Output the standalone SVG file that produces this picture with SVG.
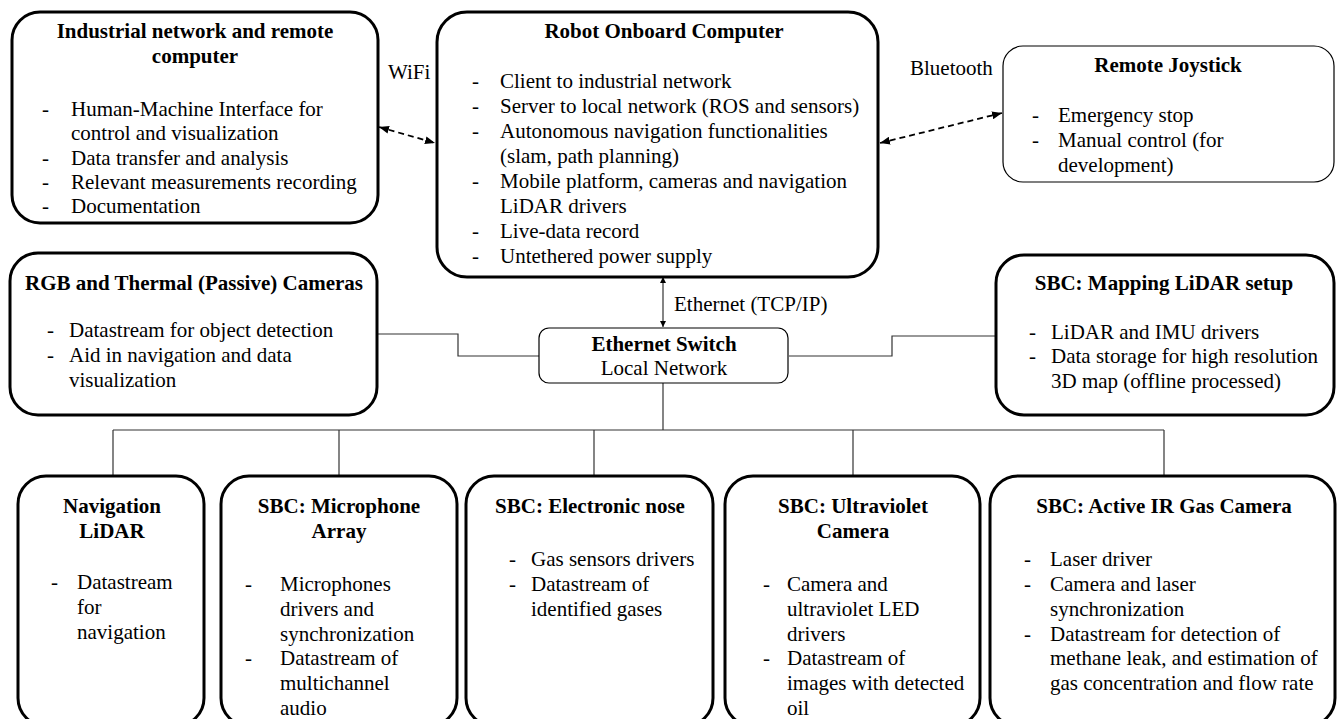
<svg xmlns="http://www.w3.org/2000/svg" width="1341" height="719" viewBox="0 0 1341 719" font-family="Liberation Serif, Times New Roman, Times, serif">
<style>
  .box{fill:#fff;stroke:#000;stroke-width:3}
  .thin{fill:#fff;stroke:#000;stroke-width:1.2}
  text{font-family:'Liberation Serif','Times New Roman',Times,serif;font-size:21px;fill:#000}
  .t{font-weight:bold;text-anchor:middle}
  .c{text-anchor:middle}
  .wire{fill:none;stroke:#333;stroke-width:1.2}
  .dash{fill:none;stroke:#000;stroke-width:1.8;stroke-dasharray:6,4}
</style>
<defs>
  <marker id="ah" viewBox="0 0 10 8" refX="10" refY="4" markerWidth="10" markerHeight="8" markerUnits="userSpaceOnUse" orient="auto-start-reverse">
    <path d="M0,0 L10,4 L0,8 z" fill="#000"/>
  </marker>
  <marker id="sa" viewBox="0 0 6 6" refX="6" refY="3" markerWidth="6" markerHeight="6" markerUnits="userSpaceOnUse" orient="auto-start-reverse">
    <path d="M0,0 L6,3 L0,6 z" fill="#000"/>
  </marker>
</defs>

<g id="connectors">
  <line class="dash" x1="379" y1="127" x2="435" y2="143" marker-start="url(#ah)" marker-end="url(#ah)"/>
  <line class="dash" x1="880" y1="143" x2="1002" y2="113" marker-start="url(#ah)" marker-end="url(#ah)"/>
  <line class="wire" x1="663" y1="277" x2="663" y2="327" marker-start="url(#sa)" marker-end="url(#sa)"/>
  <polyline class="wire" points="377,334 458,334 458,356 539,356"/>
  <polyline class="wire" points="789,356 892,356 892,336 996,336"/>
  <line class="wire" x1="663" y1="383" x2="663" y2="430"/>
  <line class="wire" x1="113" y1="430" x2="1164" y2="430"/>
  <line class="wire" x1="113" y1="430" x2="113" y2="476"/>
  <line class="wire" x1="339" y1="430" x2="339" y2="476"/>
  <line class="wire" x1="594" y1="430" x2="594" y2="476"/>
  <line class="wire" x1="853" y1="430" x2="853" y2="476"/>
  <line class="wire" x1="1164" y1="430" x2="1164" y2="476"/>
  <text x="388" y="79">WiFi</text>
  <text x="910" y="75">Bluetooth</text>
  <text x="674" y="311">Ethernet (TCP/IP)</text>
</g>

<g id="industrial">
  <rect class="box" x="12" y="12" width="366" height="211" rx="28"/>
  <text class="t" x="195" y="38">Industrial network and remote</text>
  <text class="t" x="195" y="63">computer</text>
  <text x="42" y="116">-</text><text x="71" y="116">Human-Machine Interface for</text>
  <text x="71" y="140">control and visualization</text>
  <text x="42" y="165">-</text><text x="71" y="165">Data transfer and analysis</text>
  <text x="42" y="189">-</text><text x="71" y="189">Relevant measurements recording</text>
  <text x="42" y="213">-</text><text x="71" y="213">Documentation</text>
</g>

<g id="robot">
  <rect class="box" x="437" y="12" width="441" height="265" rx="30"/>
  <text class="t" x="664" y="38">Robot Onboard Computer</text>
  <text x="472" y="88">-</text><text x="500" y="88">Client to industrial network</text>
  <text x="472" y="113">-</text><text x="500" y="113">Server to local network (ROS and sensors)</text>
  <text x="472" y="138">-</text><text x="500" y="138">Autonomous navigation functionalities</text>
  <text x="500" y="163">(slam, path planning)</text>
  <text x="472" y="188">-</text><text x="500" y="188">Mobile platform, cameras and navigation</text>
  <text x="500" y="213">LiDAR drivers</text>
  <text x="472" y="238">-</text><text x="500" y="238">Live-data record</text>
  <text x="472" y="263">-</text><text x="500" y="263">Untethered power supply</text>
</g>

<g id="joystick">
  <rect class="thin" x="1003" y="46" width="331" height="136" rx="20"/>
  <text class="t" x="1168" y="72">Remote Joystick</text>
  <text x="1032" y="122">-</text><text x="1058" y="122">Emergency stop</text>
  <text x="1032" y="147">-</text><text x="1058" y="147">Manual control (for</text>
  <text x="1058" y="172">development)</text>
</g>

<g id="rgb">
  <rect class="box" x="10" y="253" width="367" height="162" rx="28"/>
  <text class="t" x="194" y="290">RGB and Thermal (Passive) Cameras</text>
  <text x="47" y="337">-</text><text x="69" y="337">Datastream for object detection</text>
  <text x="47" y="362">-</text><text x="69" y="362">Aid in navigation and data</text>
  <text x="69" y="387">visualization</text>
</g>

<g id="switch">
  <rect class="thin" x="539" y="328" width="249" height="55" rx="10"/>
  <text class="t" x="664" y="351">Ethernet Switch</text>
  <text class="c" x="664" y="375">Local Network</text>
</g>

<g id="mapping">
  <rect class="box" x="996" y="255" width="338" height="160" rx="28"/>
  <text class="t" x="1164" y="290">SBC: Mapping LiDAR setup</text>
  <text x="1029" y="339">-</text><text x="1051" y="339">LiDAR and IMU drivers</text>
  <text x="1029" y="363">-</text><text x="1051" y="363">Data storage for high resolution</text>
  <text x="1051" y="388">3D map (offline processed)</text>
</g>

<g id="navlidar">
  <rect class="box" x="18" y="476" width="186" height="250" rx="28"/>
  <text class="t" x="112" y="513">Navigation</text>
  <text class="t" x="112" y="538">LiDAR</text>
  <text x="51" y="589">-</text><text x="77" y="589">Datastream</text>
  <text x="77" y="614">for</text>
  <text x="77" y="639">navigation</text>
</g>

<g id="microphone">
  <rect class="box" x="221" y="476" width="236" height="250" rx="28"/>
  <text class="t" x="339" y="513">SBC: Microphone</text>
  <text class="t" x="339" y="538">Array</text>
  <text x="245" y="591">-</text><text x="280" y="591">Microphones</text>
  <text x="280" y="616">drivers and</text>
  <text x="280" y="641">synchronization</text>
  <text x="245" y="665">-</text><text x="280" y="665">Datastream of</text>
  <text x="280" y="690">multichannel</text>
  <text x="280" y="715">audio</text>
</g>

<g id="enose">
  <rect class="box" x="466" y="476" width="247" height="250" rx="28"/>
  <text class="t" x="590" y="513">SBC: Electronic nose</text>
  <text x="509" y="566">-</text><text x="531" y="566">Gas sensors drivers</text>
  <text x="509" y="591">-</text><text x="531" y="591">Datastream of</text>
  <text x="531" y="616">identified gases</text>
</g>

<g id="uvcamera">
  <rect class="box" x="725" y="476" width="255" height="250" rx="28"/>
  <text class="t" x="853" y="513">SBC: Ultraviolet</text>
  <text class="t" x="853" y="538">Camera</text>
  <text x="763" y="591">-</text><text x="787" y="591">Camera and</text>
  <text x="787" y="616">ultraviolet LED</text>
  <text x="787" y="641">drivers</text>
  <text x="763" y="665">-</text><text x="787" y="665">Datastream of</text>
  <text x="787" y="690">images with detected</text>
  <text x="787" y="715">oil</text>
</g>

<g id="ircamera">
  <rect class="box" x="990" y="476" width="345" height="250" rx="28"/>
  <text class="t" x="1164" y="513">SBC: Active IR Gas Camera</text>
  <text x="1024" y="566">-</text><text x="1050" y="566">Laser driver</text>
  <text x="1024" y="591">-</text><text x="1050" y="591">Camera and laser</text>
  <text x="1050" y="616">synchronization</text>
  <text x="1024" y="641">-</text><text x="1050" y="641">Datastream for detection of</text>
  <text x="1050" y="665">methane leak, and estimation of</text>
  <text x="1050" y="690">gas concentration and flow rate</text>
</g>
</svg>
